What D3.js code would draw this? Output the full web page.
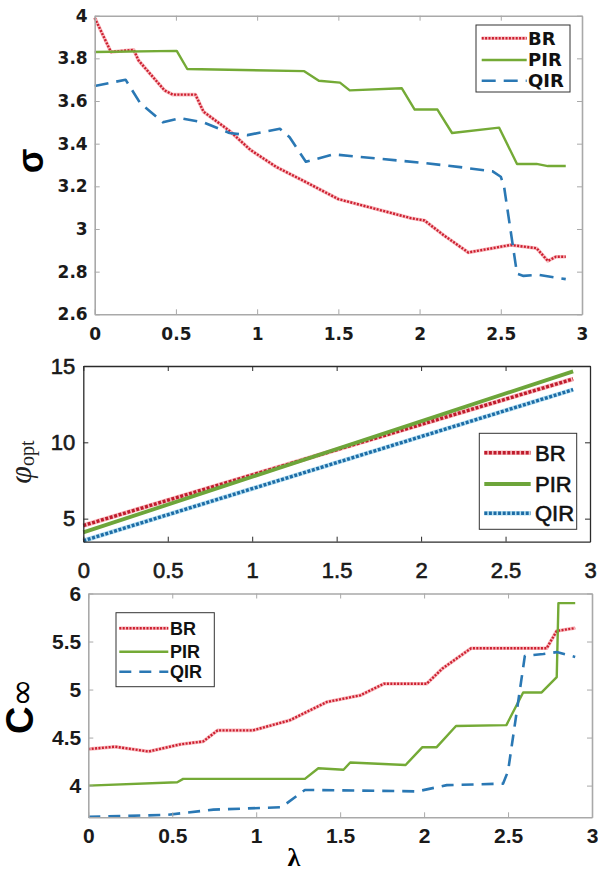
<!DOCTYPE html>
<html>
<head>
<meta charset="utf-8">
<script src="https://cdn.jsdelivr.net/npm/d3@7"></script>
<style>
  body { margin: 0; background: #fff; }
  svg { display: block; }
</style>
</head>
<body>
<svg id="chart" width="598" height="874"></svg>
<script>
// values (lambda on x)
var seriesNames = ['BR', 'PIR', 'QIR'];
var lambdaTicks = [0, 0.5, 1, 1.5, 2, 2.5, 3];

// sigma panel
var sigmaTicks = [2.6, 2.8, 3, 3.2, 3.4, 3.6, 3.8, 4];
var sigmaBRx  = [0, 0.1, 0.24, 0.27, 0.43, 0.48, 0.62, 0.67, 0.83, 0.96, 1.12, 1.3, 1.5, 1.75, 1.95, 2.03, 2.15, 2.3, 2.56, 2.72, 2.79, 2.84, 2.9];
var sigmaBR   = [3.99, 3.83, 3.84, 3.79, 3.65, 3.63, 3.63, 3.55, 3.46, 3.37, 3.29, 3.22, 3.14, 3.09, 3.05, 3.04, 2.97, 2.89, 2.925, 2.91, 2.85, 2.87, 2.87];
var sigmaPIRx = [0, 0.505, 0.57, 1.29, 1.38, 1.51, 1.57, 1.89, 1.97, 2.11, 2.2, 2.49, 2.6, 2.72, 2.79, 2.9];
var sigmaPIR  = [3.83, 3.835, 3.75, 3.74, 3.695, 3.686, 3.65, 3.66, 3.56, 3.56, 3.45, 3.475, 3.305, 3.305, 3.295, 3.295];
var sigmaQIRx = [0, 0.19, 0.28, 0.42, 0.525, 0.67, 0.83, 0.94, 1.14, 1.2, 1.3, 1.47, 2.02, 2.25, 2.45, 2.5, 2.52, 2.6, 2.64, 2.73, 2.9];
var sigmaQIR  = [3.67, 3.70, 3.59, 3.50, 3.52, 3.50, 3.45, 3.44, 3.47, 3.43, 3.315, 3.35, 3.31, 3.29, 3.27, 3.245, 3.20, 2.79, 2.78, 2.785, 2.765];

// phi_opt panel (straight lines)
var phiTicks = [5, 10, 15];
var phiX   = [0, 2.9];
var phiBR  = [4.55, 14.15];
var phiPIR = [4.1, 14.65];
var phiQIR = [3.55, 13.45];

// C_inf panel
var cTicks = [4, 4.5, 5, 5.5, 6];
var cBRx  = [0, 0.16, 0.36, 0.55, 0.685, 0.77, 0.98, 1.2, 1.42, 1.62, 1.76, 2.015, 2.11, 2.28, 2.73, 2.79, 2.9];
var cBR   = [4.38, 4.405, 4.355, 4.43, 4.46, 4.575, 4.575, 4.68, 4.87, 4.94, 5.06, 5.06, 5.22, 5.43, 5.43, 5.61, 5.64];
var cPIRx = [0, 0.53, 0.565, 1.29, 1.37, 1.52, 1.56, 1.89, 1.99, 2.075, 2.19, 2.49, 2.59, 2.70, 2.79, 2.80, 2.9];
var cPIR  = [4.0, 4.035, 4.07, 4.07, 4.18, 4.165, 4.24, 4.215, 4.40, 4.40, 4.62, 4.63, 4.97, 4.97, 5.13, 5.90, 5.90];
var cQIRx = [0, 0.47, 0.745, 1.15, 1.29, 1.96, 2.135, 2.47, 2.5, 2.6, 2.71, 2.79, 2.9];
var cQIR  = [3.675, 3.695, 3.75, 3.775, 3.955, 3.94, 4.005, 4.02, 4.15, 5.35, 5.37, 5.39, 5.34];

var svg = d3.select('#chart');

var red = '#cc1f30', redHalo = '#f6a9ae';
var green = '#74aa36';
var blue = '#2a78b4', blueHalo = '#a6daf0';

function drawPanel(p) {
    var x = d3.scaleLinear().domain([0, 3]).range([p.left, p.right]);
    var y = d3.scaleLinear().domain(p.yDomain).range([p.bottom, p.top]);
    var line = d3.line()
        .x(function(d) { return x(d[0]); })
        .y(function(d) { return y(d[1]); });

    var g = svg.append('g');

    p.curves.forEach(function(c) {
        var d = line(d3.zip(c.x, c.y));
        if (c.halo) {
            g.append('path').attr('d', d).attr('fill', 'none')
                .attr('stroke', c.halo).attr('stroke-width', c.width + 1.2)
                .attr('stroke-linejoin', 'round').attr('opacity', 0.8);
        }
        g.append('path').attr('d', d).attr('fill', 'none')
            .attr('stroke', c.color).attr('stroke-width', c.width)
            .attr('stroke-dasharray', c.dash || null)
            .attr('stroke-linejoin', 'round');
    });

    // box with inward ticks on all sides
    var axes = [
        {a: d3.axisBottom(x).tickValues(lambdaTicks).tickPadding(p.xPad), at: 'translate(0,' + p.bottom + ')', labels: true},
        {a: d3.axisTop(x).tickValues(lambdaTicks), at: 'translate(0,' + p.top + ')', labels: false},
        {a: d3.axisLeft(y).tickValues(p.yTicks).tickPadding(p.yPad), at: 'translate(' + p.left + ',0)', labels: true},
        {a: d3.axisRight(y).tickValues(p.yTicks), at: 'translate(' + p.right + ',0)', labels: false}
    ];
    axes.forEach(function(ax) {
        ax.a.tickSizeInner(-5).tickSizeOuter(0)
            .tickFormat(ax.labels ? function(v) { return String(v); } : '');
        var ag = g.append('g').attr('transform', ax.at).call(ax.a);
        ag.select('.domain').attr('stroke', p.axisColor).attr('stroke-width', p.axisWidth);
        ag.selectAll('.tick line').attr('stroke', p.axisColor).attr('stroke-width', 1);
        ag.selectAll('.tick text')
            .attr('fill', '#1a1a1a')
            .attr('stroke', p.textStroke ? '#1a1a1a' : null)
            .attr('stroke-width', p.textStroke || null)
            .style('font-family', p.font)
            .style('font-size', p.fontSize + 'px')
            .style('font-weight', p.fontWeight);
    });

    // legend
    var L = p.legend;
    g.append('rect')
        .attr('x', L.x).attr('y', L.y).attr('width', L.w).attr('height', L.h)
        .attr('fill', '#fff').attr('stroke', '#333').attr('stroke-width', 1);
    p.curves.forEach(function(c, i) {
        var ly = L.y + L.rows[i];
        if (c.halo) {
            g.append('line').attr('x1', L.x + L.lx0).attr('x2', L.x + L.lx1)
                .attr('y1', ly).attr('y2', ly)
                .attr('stroke', c.halo).attr('stroke-width', c.width + 1.2).attr('opacity', 0.8);
        }
        g.append('line').attr('x1', L.x + L.lx0).attr('x2', L.x + L.lx1)
            .attr('y1', ly).attr('y2', ly)
            .attr('stroke', c.color).attr('stroke-width', c.width)
            .attr('stroke-dasharray', c.dash || null);
        g.append('text')
            .attr('x', L.x + L.tx).attr('y', ly).attr('dy', '0.36em')
            .attr('fill', '#111')
            .attr('stroke', p.textStroke ? '#111' : null)
            .attr('stroke-width', p.textStroke || null)
            .style('font-family', L.font)
            .style('font-size', L.size + 'px')
            .style('font-weight', L.weight)
            .text(seriesNames[i]);
    });
    return g;
}

// top: sigma
var top = drawPanel({
    left: 94.7, right: 582, top: 15.7, bottom: 314.3,
    yDomain: [2.6, 4], yTicks: sigmaTicks,
    axisColor: '#a9a9a9', axisWidth: 1.6,
    font: 'DejaVu Sans', fontSize: 17, fontWeight: 'bold', xPad: 14, yPad: 7,
    curves: [
        {x: sigmaBRx, y: sigmaBR, color: red, halo: redHalo, width: 2.4, dash: '2,1.4'},
        {x: sigmaPIRx, y: sigmaPIR, color: green, width: 2.4},
        {x: sigmaQIRx, y: sigmaQIR, color: blue, width: 2.6, dash: '14,8'}
    ],
    legend: {x: 476, y: 25, w: 94, h: 67, rows: [13.3, 35, 55.7], lx0: 5.7, lx1: 50.7, tx: 52,
             font: 'DejaVu Sans', size: 18, weight: 'bold'}
});

// middle: phi_opt
var mid = drawPanel({
    left: 83.3, right: 590, top: 366, bottom: 541.7,
    yDomain: [3.49, 15], yTicks: phiTicks,
    axisColor: '#2b2b2b', axisWidth: 1.3,
    font: 'Liberation Sans, Arial, sans-serif', fontSize: 22, fontWeight: 'normal', xPad: 21, yPad: 8,
    textStroke: 0.6,
    curves: [
        {x: phiX, y: phiBR, color: '#bf1b2c', halo: redHalo, width: 3.4, dash: '3,1.6'},
        {x: phiX, y: phiPIR, color: '#6da53a', width: 3.8},
        {x: phiX, y: phiQIR, color: '#1d6ca6', halo: blueHalo, width: 3.4, dash: '3,1.6'}
    ],
    legend: {x: 479.3, y: 433.3, w: 97.4, h: 96, rows: [19.4, 50.7, 80], lx0: 5, lx1: 51.4, tx: 55.7,
             font: 'Liberation Sans, Arial, sans-serif', size: 22, weight: 'normal'}
});

// bottom: C_inf
var bot = drawPanel({
    left: 88.3, right: 592, top: 593.5, bottom: 817.3,
    yDomain: [3.67, 6], yTicks: cTicks,
    axisColor: '#a9a9a9', axisWidth: 1.6,
    font: 'Liberation Sans, Arial, sans-serif', fontSize: 21, fontWeight: 'bold', xPad: 11, yPad: 7,
    curves: [
        {x: cBRx, y: cBR, color: red, halo: redHalo, width: 2.4, dash: '2,1.4'},
        {x: cPIRx, y: cPIR, color: green, width: 2.4},
        {x: cQIRx, y: cQIR, color: blue, width: 2.6, dash: '12,8'}
    ],
    legend: {x: 116, y: 612.7, w: 98.3, h: 74, rows: [15.6, 39, 59], lx0: 3.3, lx1: 52.3, tx: 54,
             font: 'Liberation Sans, Arial, sans-serif', size: 18, weight: 'bold'}
});

// axis titles
svg.append('text')
    .attr('transform', 'translate(43,161) rotate(-90)')
    .attr('text-anchor', 'middle')
    .style('font-family', 'Liberation Sans, Arial, sans-serif')
    .style('font-size', '36px').style('font-weight', 'bold')
    .text('σ');

var phiLabel = svg.append('text')
    .attr('transform', 'translate(31,462) rotate(-90)')
    .attr('text-anchor', 'middle')
    .style('font-family', 'Liberation Serif, serif')
    .attr('fill', '#222');
phiLabel.append('tspan').style('font-size', '32px').style('font-style', 'italic').text('φ');
phiLabel.append('tspan').style('font-size', '20px').attr('dy', 3).text('opt');

var cLabel = svg.append('text')
    .attr('transform', 'translate(33,706) rotate(-90)')
    .attr('text-anchor', 'middle');
cLabel.append('tspan').style('font-family', 'Liberation Sans, Arial, sans-serif')
    .style('font-size', '38px').style('font-weight', 'bold').text('C');
cLabel.append('tspan').style('font-family', 'DejaVu Sans')
    .style('font-size', '34px').text('∞');

svg.append('text')
    .attr('x', 294).attr('y', 866)
    .attr('text-anchor', 'middle')
    .style('font-family', 'Liberation Serif, serif')
    .style('font-size', '26px').style('font-weight', 'bold')
    .text('λ');
</script>
</body>
</html>
